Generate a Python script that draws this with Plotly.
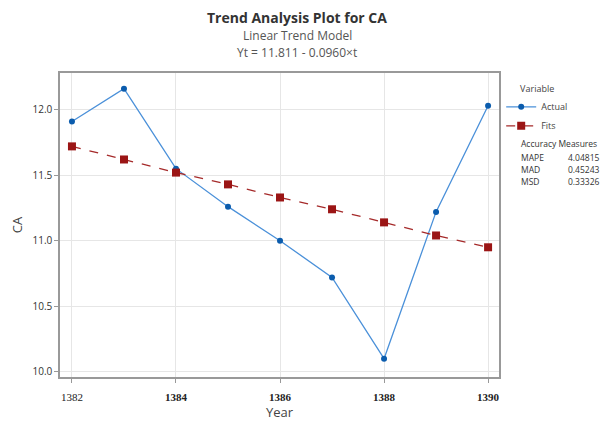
import plotly.graph_objects as go

years = [1382, 1383, 1384, 1385, 1386, 1387, 1388, 1389, 1390]
actual = [11.91, 12.16, 11.55, 11.26, 11.00, 10.72, 10.10, 11.22, 12.03]
fits = [11.72, 11.62, 11.52, 11.43, 11.33, 11.24, 11.14, 11.04, 10.95]

x_ticks = [1382, 1384, 1386, 1388, 1390]
x_ticktext = ["1382", "<b>1384</b>", "<b>1386</b>", "<b>1388</b>", "<b>1390</b>"]
y_ticks = [10.0, 10.5, 11.0, 11.5, 12.0]

measures = ["MAPE", "MAD", "MSD"]
measure_vals = ["4.04815", "0.45243", "0.33326"]

FONT = "Open Sans"
GRID = "#e6e6e6"

# the page adds an 8px body margin, so the figure is 8px smaller than the window
W, H = 600, 416
L, T, R, B = 52, 65, 109, 47
PH = H - T - B
PW = W - L - R


def py(fig_y):
    # figure pixel y -> paper fraction
    return 1 + (T - fig_y) / PH


def px_(fig_x):
    return (fig_x - L) / PW


fig = go.Figure()
fig.add_trace(go.Scatter(
    x=years, y=actual, name="Actual", mode="lines+markers",
    line=dict(color="#4a90d9", width=1.3),
    marker=dict(color="#0b5cad", size=6, symbol="circle"),
))
fig.add_trace(go.Scatter(
    x=years, y=fits, name="Fits", mode="lines+markers",
    line=dict(color="#a52a2a", width=1.3, dash="dash"),
    marker=dict(color="#9b1515", size=8, symbol="square"),
))

ann = [
    dict(x=px_(289), y=py(9), text="<b>Trend Analysis Plot for CA</b>",
         font=dict(size=14, color="#333")),
    dict(x=px_(289), y=py(27), text="Linear Trend Model",
         font=dict(size=12, color="#555")),
    dict(x=px_(289), y=py(44), text="Yt = 11.811 - 0.0960×t",
         font=dict(size=12, color="#555")),
    dict(x=px_(511), y=py(135), xanchor="left",
         text="Accuracy Measures", font=dict(size=8.5, color="#333")),
]
for i, (m, v) in enumerate(zip(measures, measure_vals)):
    yy = py(149 + i * 12)
    ann.append(dict(x=px_(511), y=yy, xanchor="left", text=m,
                    font=dict(size=8.5, color="#333")))
    ann.append(dict(x=px_(594), y=yy, xanchor="right", text=v,
                    font=dict(size=8.5, color="#333")))
for a in ann:
    a.setdefault("xanchor", "center")
    a.update(xref="paper", yref="paper", yanchor="middle", showarrow=False)

fig.update_layout(
    width=W, height=H,
    paper_bgcolor="white", plot_bgcolor="white",
    font=dict(family=FONT, color="#444"),
    margin=dict(l=L, r=R, t=T, b=B),
    xaxis=dict(
        range=[1381.77, 1390.21], tickvals=x_ticks, ticktext=x_ticktext,
        tickfont=dict(family="Liberation Serif", size=11, color="#222"),
        showgrid=True, gridcolor=GRID, zeroline=False, automargin=False,
        showline=True, linecolor="#999", linewidth=1.5, mirror=True,
        ticks="outside", ticklen=4, tickcolor="#999", ticklabelstandoff=5,
        title=dict(text="Year", font=dict(size=13, color="#444"), standoff=6),
    ),
    yaxis=dict(
        range=[9.96, 12.28], tickvals=y_ticks, tickformat=".1f",
        tickfont=dict(size=10, color="#333"),
        showgrid=True, gridcolor=GRID, zeroline=False, automargin=False,
        showline=True, linecolor="#999", linewidth=1.5, mirror=True,
        ticks="outside", ticklen=4, tickcolor="#999",
        title=dict(text="CA", font=dict(size=13, color="#444"), standoff=10),
    ),
    legend=dict(
        x=1.005, y=0.975, xanchor="left", yanchor="top",
        title=dict(text="Variable", side="top center", font=dict(size=9)),
        font=dict(size=9, color="#444"),
        bgcolor="rgba(0,0,0,0)", tracegroupgap=0, itemwidth=30,
    ),
    annotations=ann,
)

fig.write_html("out.html")
